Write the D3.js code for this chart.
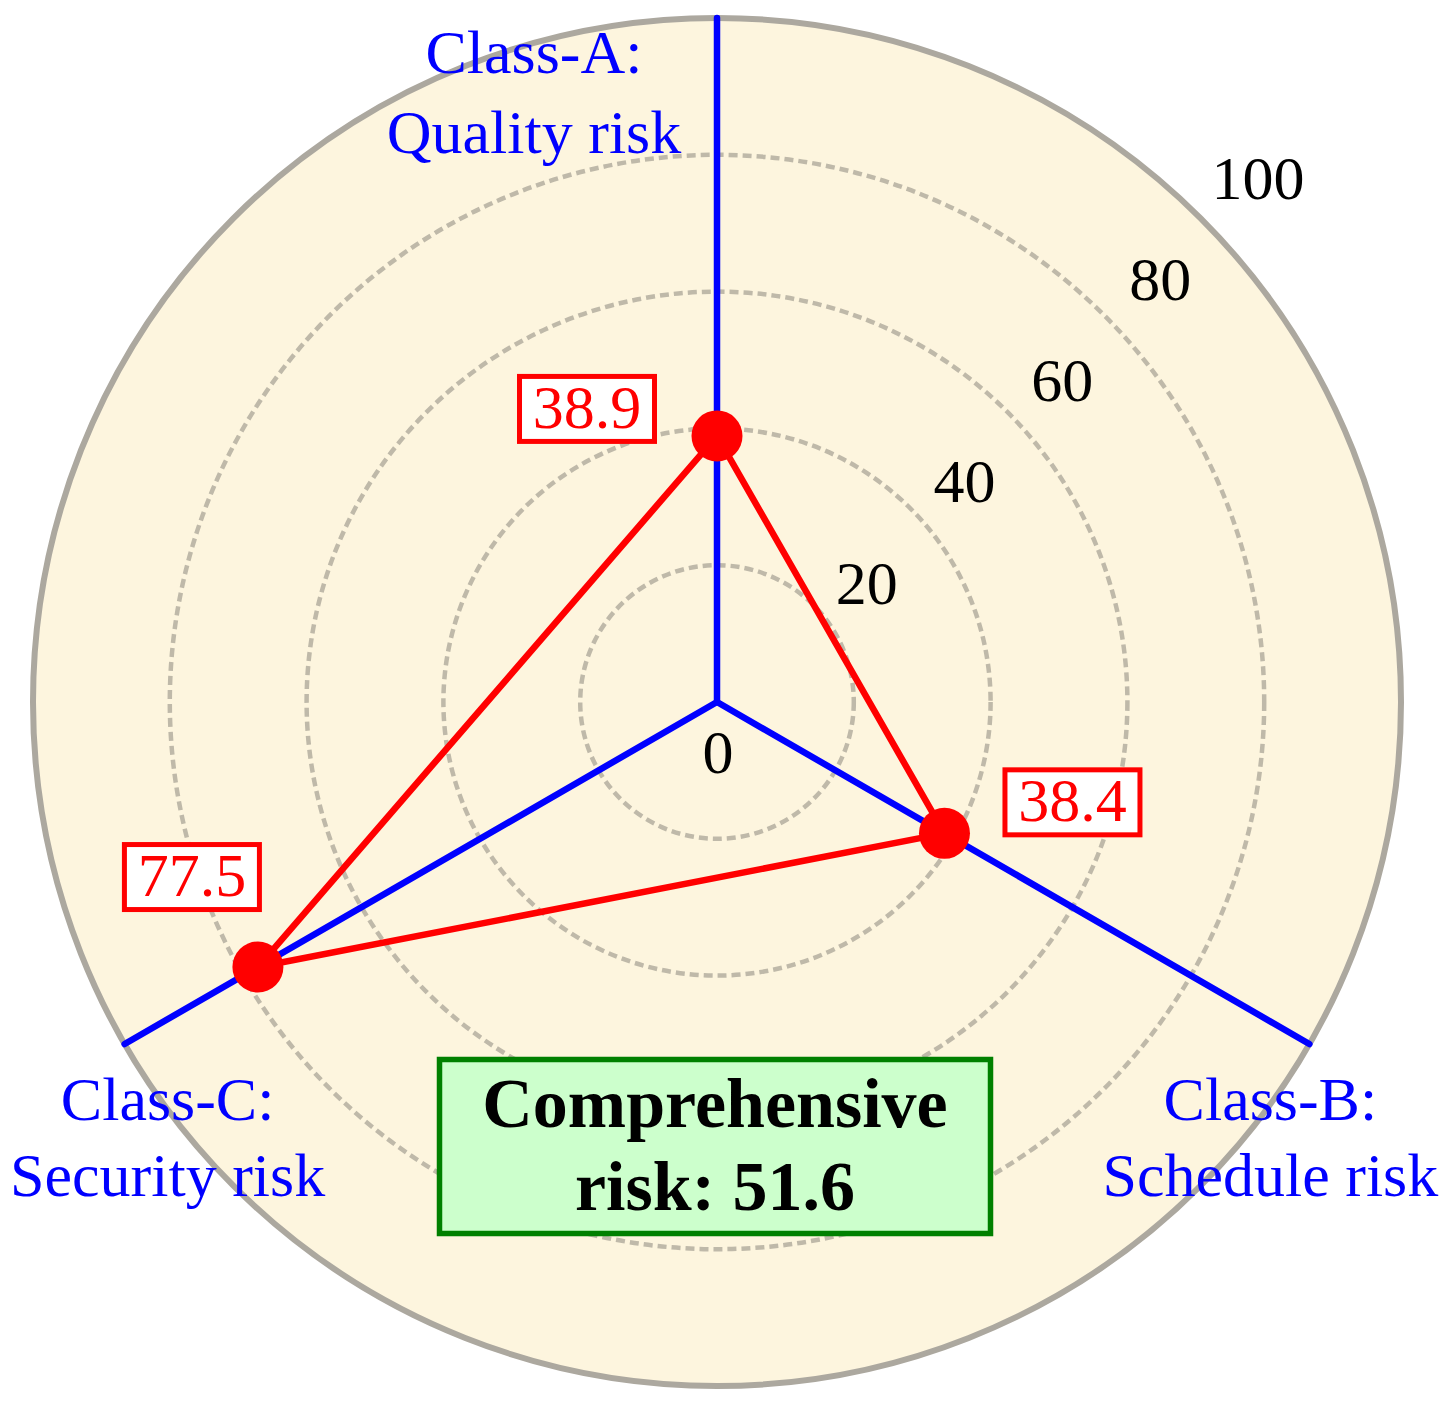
<!DOCTYPE html>
<html>
<head>
<meta charset="utf-8">
<script src="https://cdn.jsdelivr.net/npm/d3@7"></script>
<style>
  html, body { margin: 0; padding: 0; background: #ffffff; }
  svg { display: block; }
  text { font-family: "Liberation Serif", "Times New Roman", serif; }
</style>
</head>
<body>
<svg id="chart" width="1453" height="1402"></svg>
<script>
// ---------------- data ----------------
const categories = [
  ["Class-A:", "Quality risk"],
  ["Class-B:", "Schedule risk"],
  ["Class-C:", "Security risk"]
];
const values = [38.9, 38.4, 77.5];
const ringTicks = [20, 40, 60, 80];
const tickValues = [0, 20, 40, 60, 80, 100];
const tickLabels = ["0", "20", "40", "60", "80", "100"];
const comprehensiveLines = ["Comprehensive", "risk: 51.6"];

// ---------------- layout ----------------
const cx = 717, cy = 702, R = 684;
const axisAngles = [0, 120, 240];            // degrees clockwise from 12 o'clock
const valueLabelOffsets = [[-130, -27], [128, -31], [-66, -90]];
// category label anchor (centre x, first baseline) relative to each axis end
const catLabelOffsets = [[-183, 55], [-39, 76], [43, 76]];
const catLineGap = [80, 76, 76];

const svg = d3.select("#chart");
const g = svg.append("g").attr("transform", `translate(${cx},${cy})`);
const r = d3.scaleLinear().domain([0, 100]).range([0, R]);
const rad = d => d * Math.PI / 180;

// background disc
g.append("circle").attr("r", r(100)).attr("fill", "#fdf5de");

// dashed rings
g.selectAll("circle.ring").data(ringTicks).join("circle")
  .attr("class", "ring")
  .attr("r", d => r(d))
  .attr("fill", "none")
  .attr("stroke", "#bfb9a9")
  .attr("stroke-width", 4.5)
  .attr("stroke-dasharray", "9,5");

// outer circle
g.append("circle").attr("r", r(100))
  .attr("fill", "none")
  .attr("stroke", "#aca89f")
  .attr("stroke-width", 6);

// axes
g.selectAll("line.axis").data(axisAngles).join("line")
  .attr("class", "axis")
  .attr("x1", 0).attr("y1", 0)
  .attr("x2", d => d3.pointRadial(rad(d), r(100))[0])
  .attr("y2", d => d3.pointRadial(rad(d), r(100))[1])
  .attr("stroke", "#0000ff")
  .attr("stroke-width", 6.5)
  .attr("stroke-linecap", "round");

// tick labels
const tickAngle = rad(44);
g.selectAll("text.tick").data(tickValues).join("text")
  .attr("class", "tick")
  .attr("text-anchor", "middle")
  .attr("font-size", 62)
  .attr("fill", "#000")
  .attr("x", d => d === 0 ? 1 : d3.pointRadial(tickAngle, r(d) * 1.029)[0] + 52)
  .attr("y", d => d === 0 ? 71 : d3.pointRadial(tickAngle, r(d) * 1.029)[1] + 3)
  .text((d, i) => tickLabels[i]);

// red polygon
const pts = values.map((v, i) => [rad(axisAngles[i]), r(v)]);
g.append("path")
  .attr("d", d3.lineRadial().angle(d => d[0]).radius(d => d[1]).curve(d3.curveLinearClosed)(pts))
  .attr("fill", "none")
  .attr("stroke", "#ff0000")
  .attr("stroke-width", 6.5)
  .attr("stroke-linejoin", "round");

// dots
g.selectAll("circle.dot").data(pts).join("circle")
  .attr("class", "dot")
  .attr("cx", d => d3.pointRadial(d[0], d[1])[0])
  .attr("cy", d => d3.pointRadial(d[0], d[1])[1])
  .attr("r", 25.5)
  .attr("fill", "#ff0000");

// value labels with boxes
const vl = g.selectAll("g.vlabel").data(values).join("g")
  .attr("class", "vlabel")
  .attr("transform", (v, i) => {
    const p = d3.pointRadial(rad(axisAngles[i]), r(v));
    return `translate(${p[0] + valueLabelOffsets[i][0]},${p[1] + valueLabelOffsets[i][1]})`;
  });
vl.append("rect")
  .attr("x", -67.5).attr("y", -32.5)
  .attr("width", 135).attr("height", 65)
  .attr("fill", "#ffffff")
  .attr("stroke", "#ff0000")
  .attr("stroke-width", 5);
vl.append("text")
  .attr("text-anchor", "middle")
  .attr("y", 19)
  .attr("font-size", 62)
  .attr("fill", "#ff0000")
  .text(v => v.toFixed(1));

// category labels
categories.forEach((lines, i) => {
  const end = d3.pointRadial(rad(axisAngles[i]), r(100));
  const t = g.append("text")
    .attr("text-anchor", "middle")
    .attr("font-size", 62)
    .attr("fill", "#0000ff");
  lines.forEach((ln, j) => {
    t.append("tspan")
      .attr("x", end[0] + catLabelOffsets[i][0])
      .attr("y", end[1] + catLabelOffsets[i][1] + j * catLineGap[i])
      .text(ln);
  });
});

// comprehensive box
const cb = svg.append("g");
cb.append("rect")
  .attr("x", 439.5).attr("y", 1059.5)
  .attr("width", 551).attr("height", 174)
  .attr("fill", "#ccffcc")
  .attr("stroke", "#008000")
  .attr("stroke-width", 5.5);
const ct = cb.append("text")
  .attr("text-anchor", "middle")
  .attr("font-size", 70)
  .attr("font-weight", "bold")
  .attr("fill", "#000");
comprehensiveLines.forEach((ln, j) => {
  ct.append("tspan").attr("x", 715).attr("y", 1127 + j * 83).text(ln);
});
</script>
</body>
</html>
